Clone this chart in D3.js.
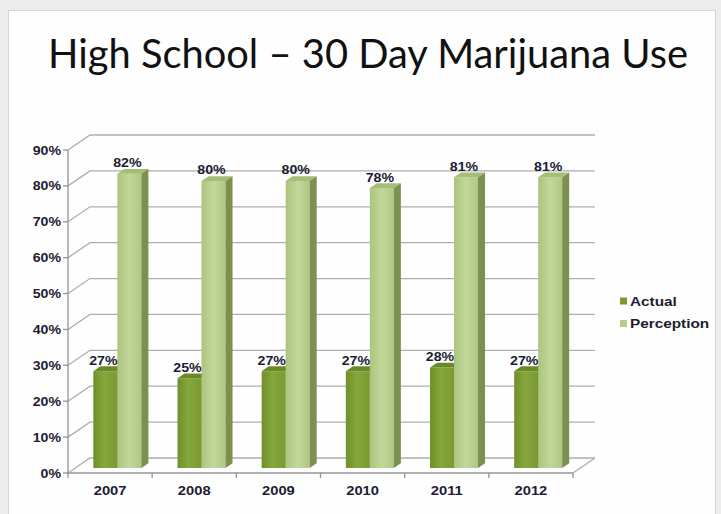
<!DOCTYPE html>
<html><head><meta charset="utf-8">
<script src="https://cdn.jsdelivr.net/npm/d3@7"></script>
<style>body{margin:0;background:#ececec;}svg{display:block;}</style>
</head><body>
<svg id="chart" width="721" height="514"></svg>
<script>
const categories = ["2007","2008","2009","2010","2011","2012"];
const actual = [27,25,27,27,28,27];
const perception = [82,80,80,78,81,81];
const seriesNames = ["Actual","Perception"];
const yTicks = [0,10,20,30,40,50,60,70,80,90];
const titleText = "High School \u2013 30 Day Marijuana Use";

const svg = d3.select("#chart");
svg.append("rect").attr("x",0).attr("y",0).attr("width",721).attr("height",514).attr("fill","#ececec");
svg.append("rect").attr("x",8.5).attr("y",10.5).attr("width",707).attr("height",510)
  .attr("fill","#fefefe").attr("stroke","#d6d6d6");

// title
const title = svg.append("text").attr("x",368).attr("y",68).attr("text-anchor","middle")
  .attr("font-family","Lato, 'Open Sans', sans-serif").attr("font-size",38).attr("fill","#111")
  .text(titleText);
const tw = title.node().getComputedTextLength();
title.attr("font-size", 38*640/tw);

const DX = 22, DY = -15;
const x = d3.scaleBand().domain(categories).range([68,573]);
const y = d3.scaleLinear().domain([0,90]).range([473,150]);
const gridCol = "#aeaeae";
const axisCol = "#949494";

const lblFont = "Arial, 'Liberation Sans', sans-serif";
const txtCol = "#1d1d33";
const SX = 1.18;
function label(parent, tx, ty, str, anchor, size){
  return parent.append("text")
    .attr("transform",`translate(${tx},${ty}) scale(${SX},1)`)
    .attr("text-anchor",anchor)
    .attr("font-family",lblFont).attr("font-weight","bold").attr("font-size",size).attr("fill",txtCol)
    .text(str);
}

const g = svg.append("g");
yTicks.forEach(t=>{
  const yf = y(t);
  g.append("path").attr("d",`M${68},${yf}L${68+DX},${yf+DY}L${573+DX},${yf+DY}`)
    .attr("fill","none").attr("stroke",gridCol).attr("stroke-width",1.3);
});
g.append("path").attr("d",`M573,${y(0)}L${573+DX},${y(0)+DY}`).attr("fill","none").attr("stroke",gridCol).attr("stroke-width",1.3);

g.append("line").attr("x1",68).attr("x2",68).attr("y1",y(90)).attr("y2",y(0)).attr("stroke",axisCol).attr("stroke-width",1.3);
g.append("line").attr("x1",68).attr("x2",573).attr("y1",y(0)).attr("y2",y(0)).attr("stroke",axisCol).attr("stroke-width",1.3);
yTicks.forEach(t=>{
  g.append("line").attr("x1",63).attr("x2",68).attr("y1",y(t)).attr("y2",y(t)).attr("stroke",axisCol).attr("stroke-width",1.3);
});
categories.concat(["_end"]).forEach((c,i)=>{
  const xv = i<categories.length ? x(c) : x.range()[1];
  g.append("line").attr("x1",xv).attr("x2",xv).attr("y1",y(0)).attr("y2",y(0)+5).attr("stroke",axisCol).attr("stroke-width",1.3);
});

yTicks.forEach(t=>{ label(g, 61, y(t)+4.5, t+"%", "end", 12); });
categories.forEach(c=>{ label(g, x(c)+x.bandwidth()/2, 495, c, "middle", 12.5); });

const defs = svg.append("defs");
function grad(id, stops){
  const lg = defs.append("linearGradient").attr("id",id).attr("x1","0%").attr("x2","100%").attr("y1","0%").attr("y2","0%");
  stops.forEach(s=>lg.append("stop").attr("offset",s[0]).attr("stop-color",s[1]));
}
grad("gA",[["0%","#6f8f28"],["45%","#86a73c"],["100%","#7a9a31"]]);
grad("gP",[["0%","#abc47c"],["50%","#c2d89c"],["100%","#afc782"]]);

const z0 = 0.33, z1 = 0.65;
const barW = x.bandwidth()*0.285;
const styles = [
  {front:"url(#gA)", top:"#6a8a26", side:"#5d7a22", legend:"#7a9a32"},
  {front:"url(#gP)", top:"#a5bd76", side:"#7c914f", legend:"#b6cd8b"}
];
const series = [actual, perception];
const bars = svg.append("g");
const labels = svg.append("g");
categories.forEach((c,i)=>{
  const cx = x(c)+x.bandwidth()/2;
  series.forEach((vals,s)=>{
    const v = vals[i];
    const xl = cx - barW + s*barW;
    const xr = xl + barW;
    const ox0 = DX*z0, oy0 = DY*z0, ox1 = DX*z1, oy1 = DY*z1;
    const yb = y(0), yt = y(v);
    const st = styles[s];
    bars.append("path").attr("d",`M${xl+ox0},${yb+oy0}L${xr+ox0},${yb+oy0}L${xr+ox0},${yt+oy0}L${xl+ox0},${yt+oy0}Z`).attr("fill",st.front);
    bars.append("path").attr("d",`M${xl+ox0},${yt+oy0}L${xr+ox0},${yt+oy0}L${xr+ox1},${yt+oy1}L${xl+ox1},${yt+oy1}Z`).attr("fill",st.top);
    bars.append("path").attr("d",`M${xr+ox0},${yb+oy0}L${xr+ox1},${yb+oy1}L${xr+ox1},${yt+oy1}L${xr+ox0},${yt+oy0}Z`).attr("fill",st.side);
    label(labels, (xl+xr)/2+ox0-2, yt+oy0-6.5, v+"%", "middle", 12);
  });
});

seriesNames.forEach((n,i)=>{
  const ly = 301 + i*22.5;
  svg.append("rect").attr("x",620).attr("y",ly-3.5).attr("width",7).attr("height",7).attr("fill",styles[i].legend);
  label(svg, 630, ly+4.5, n, "start", 13);
});
</script>
</body></html>
